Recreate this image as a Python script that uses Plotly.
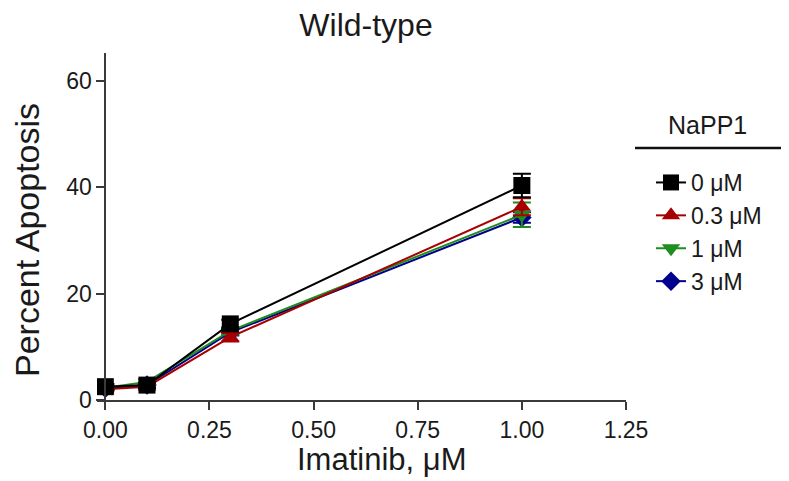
import plotly.graph_objects as go

imatinib = [0, 0.1, 0.3, 1.0]
series_names = ["0 μM", "0.3 μM", "1 μM", "3 μM"]
apoptosis_0 = [2.5, 2.8, 14.3, 40.3]
apoptosis_03 = [2.0, 2.5, 11.8, 36.3]
apoptosis_1 = [2.3, 3.4, 13.0, 34.8]
apoptosis_3 = [2.2, 2.8, 12.7, 34.3]
err_0 = [0.5, 0.5, 0.8, 2.2]
err_03 = [0.3, 0.4, 0.8, 1.6]
err_1 = [0.4, 0.5, 0.7, 2.3]
err_3 = [0.3, 0.4, 0.6, 1.0]

colors = ["#000000", "#a80000", "#1e8c1e", "#00008c"]
symbols = ["square", "triangle-up", "triangle-down", "diamond"]
sizes = [17, 16, 16, 15]
values = [apoptosis_0, apoptosis_03, apoptosis_1, apoptosis_3]
errs = [err_0, err_03, err_1, err_3]

# page has an 8px body margin; design in screen coords minus offset
OFF = 8
W, H = 789 - OFF, 481 - OFF
PL, PR, PT, PB = 97 - OFF, 626 - OFF, 53 - OFF, 400 - OFF
PW, PH = PR - PL, PB - PT


def px(sx):
    return (sx - OFF - PL) / PW


def py(sy):
    return 1 - (sy - OFF - PT) / PH


fig = go.Figure()
for i in [3, 2, 1, 0]:
    fig.add_trace(go.Scatter(
        x=imatinib, y=values[i], name=series_names[i], mode="lines+markers",
        line=dict(color=colors[i], width=2),
        marker=dict(symbol=symbols[i], size=sizes[i], color=colors[i]),
        error_y=dict(type="data", array=errs[i], color=colors[i], thickness=2, width=9),
    ))

font = "Liberation Sans, Arial, sans-serif"
txt = "#1a1a1a"
axcol = "#3a3a3a"
fig.update_layout(
    width=W, height=H,
    margin=dict(l=PL, r=W - PR, t=PT, b=H - PB, autoexpand=False),
    plot_bgcolor="white", paper_bgcolor="white",
    font=dict(family=font, color=txt),
    title=dict(text="Wild-type", x=(366 - OFF) / W, xanchor="center", y=1 - (25 - OFF) / H, yanchor="middle",
               font=dict(size=32, color=txt)),
    xaxis=dict(range=[-0.02, 1.25], tickvals=[0, 0.25, 0.5, 0.75, 1.0, 1.25],
               ticktext=["0.00", "0.25", "0.50", "0.75", "1.00", "1.25"],
               showline=True, linecolor=axcol, linewidth=2, ticks="outside",
               tickwidth=2, ticklen=8, tickcolor=axcol, showgrid=False, zeroline=False,
               tickfont=dict(size=23, color=txt)),
    yaxis=dict(range=[0, 65.2], tickvals=[0, 20, 40, 60], anchor="free", position=0.02 / 1.27,
               showline=True, linecolor=axcol, linewidth=2, ticks="outside",
               tickwidth=2, ticklen=8, tickcolor=axcol, showgrid=False, zeroline=False,
               tickfont=dict(size=23, color=txt)),
    legend=dict(x=px(651), xanchor="left", y=py(161), yanchor="top",
                traceorder="reversed", font=dict(size=23, color=txt), tracegroupgap=0,
                bgcolor="rgba(0,0,0,0)"),
    showlegend=True,
)
fig.add_annotation(text="Imatinib, μM", xref="paper", yref="paper", x=px(381), y=py(459),
                   showarrow=False, font=dict(size=31, color=txt), xanchor="center", yanchor="middle")
fig.add_annotation(text="Percent Apoptosis", xref="paper", yref="paper", x=px(27), y=py(240),
                   textangle=-90, showarrow=False, font=dict(size=34, color=txt),
                   xanchor="center", yanchor="middle")
fig.add_annotation(text="NaPP1", xref="paper", yref="paper", x=px(707), y=py(125),
                   showarrow=False, font=dict(size=25, color=txt), xanchor="center", yanchor="middle")
fig.add_shape(type="line", xref="paper", yref="paper", x0=px(635), x1=px(795),
              y0=py(148), y1=py(148), line=dict(color="#111111", width=2.5))

fig.write_html("out.html")
